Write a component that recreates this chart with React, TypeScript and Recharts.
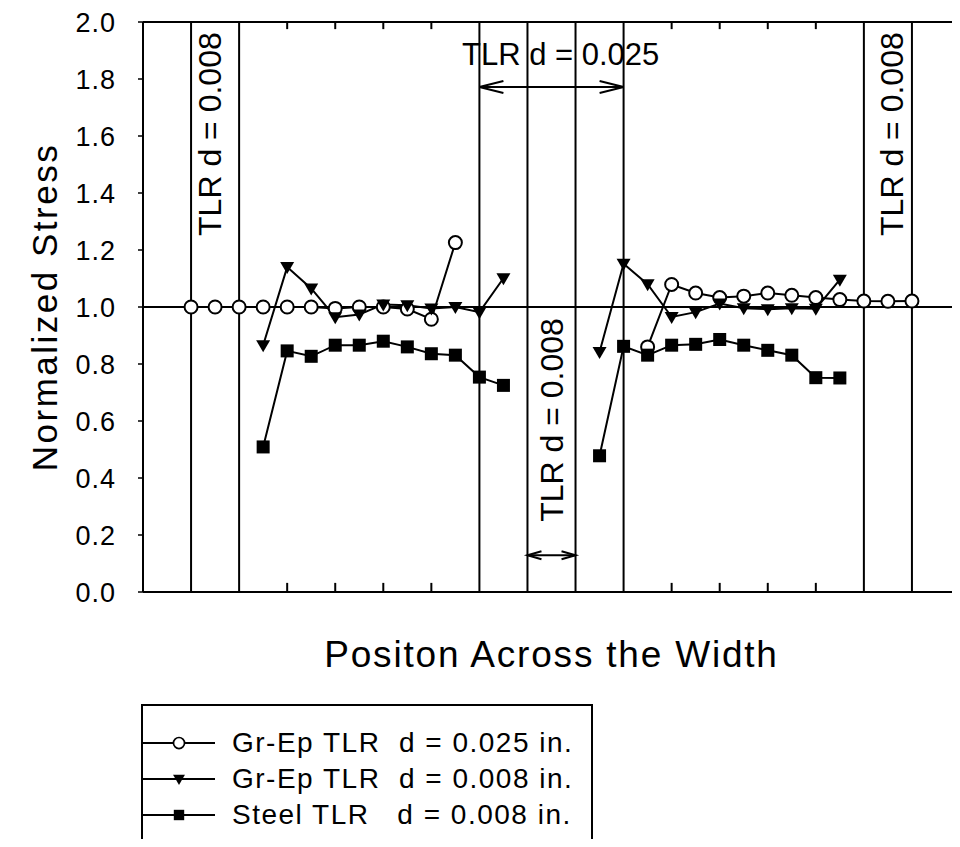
import { LineChart, Line, XAxis, YAxis, ReferenceLine, ReferenceDot, Legend } from 'recharts'

const FONT = '"Liberation Sans", Arial, Helvetica, sans-serif'

// position across the width (x) and normalized stress (y)
const grEp025LeftX = [1, 1.5, 2, 2.5, 3, 3.5, 4, 4.5, 5, 5.5, 6, 6.5]
const grEp025LeftY = [1.0, 1.0, 1.0, 1.0, 1.0, 1.0, 0.995, 1.0, 1.0, 0.993, 0.957, 1.226]
const grEp025RightX = [10.5, 11, 11.5, 12, 12.5, 13, 13.5, 14, 14.5, 15, 15.5, 16]
const grEp025RightY = [0.86, 1.079, 1.049, 1.033, 1.038, 1.049, 1.041, 1.033, 1.026, 1.021, 1.02, 1.021]

const d008LeftX = [2.5, 3, 3.5, 4, 4.5, 5, 5.5, 6, 6.5, 7, 7.5]
const d008RightX = [9.5, 10, 10.5, 11, 11.5, 12, 12.5, 13, 13.5, 14, 14.5]
const grEp008LeftY = [0.866, 1.14, 1.065, 0.964, 0.974, 1.009, 1.006, 0.995, 1.0, 0.982, 1.101]
const grEp008RightY = [0.842, 1.152, 1.08, 0.965, 0.982, 1.012, 0.996, 0.992, 0.996, 0.994, 1.096]
const steelLeftY = [0.509, 0.846, 0.827, 0.866, 0.866, 0.88, 0.86, 0.836, 0.831, 0.754, 0.725]
const steelRightY = [0.478, 0.862, 0.831, 0.866, 0.869, 0.886, 0.866, 0.848, 0.831, 0.752, 0.751]

const yTicks = [0, 0.2, 0.4, 0.6, 0.8, 1.0, 1.2, 1.4, 1.6, 1.8, 2.0]
const tlrEdges = [1, 2, 7, 8, 9, 10, 15, 16]
const minorTicks = [3, 4, 5, 6, 11, 12, 13, 14]

// annotations, in data units
const sideNotes = [
  { x: 1.375, y: 1.964 },
  { x: 15.58, y: 1.964 },
  { x: 8.49, y: 0.961 },
]
const wideNote = { x: 8.69, y: 1.848 }
const wideArrow = { from: 7, to: 10, at: 1.772 }
const narrowArrow = { from: 8, to: 9, at: 0.129 }
const bottomTickLen = 0.032
const topTickLen = 0.025

const pts = (xs: number[], ys: number[]) => xs.map((x, i) => ({ x, y: ys[i] }))

const OpenCircle = (p: any) => (
  <circle key={p.key} cx={p.cx} cy={p.cy} r={6.5} fill="#fff" stroke="#000" strokeWidth={2} />
)
const DownTriangle = (p: any) => (
  <path
    key={p.key}
    d={`M${p.cx - 7},${p.cy - 5}L${p.cx + 7},${p.cy - 5}L${p.cx},${p.cy + 7}Z`}
    fill="#000"
  />
)
const FilledSquare = (p: any) => (
  <rect key={p.key} x={p.cx - 6.5} y={p.cy - 6.5} width={13} height={13} fill="#000" />
)

const rotatedNote = (p: any) => (
  <text
    x={p.cx}
    y={p.cy}
    dy="0.36em"
    transform={`rotate(-90 ${p.cx} ${p.cy})`}
    textAnchor="end"
    fontSize={32}
    fontFamily={FONT}
    fill="#000"
  >
    TLR d = 0.008
  </text>
)

const wideNoteText = (p: any) => (
  <text x={p.cx} y={p.cy} textAnchor="middle" fontSize={31} fontFamily={FONT} fill="#000">
    TLR d = 0.025
  </text>
)

const doubleArrow = (head: number, spread: number) => (p: any) => {
  const { x1, y1, x2, y2 } = p
  return (
    <g fill="none" stroke="#000" strokeWidth={2}>
      <line x1={x1} y1={y1} x2={x2} y2={y2} />
      <polyline points={`${x1 + head},${y1 - spread} ${x1},${y1} ${x1 + head},${y1 + spread}`} />
      <polyline points={`${x2 - head},${y2 - spread} ${x2},${y2} ${x2 - head},${y2 + spread}`} />
    </g>
  )
}

const legendItems = [
  { name: 'Gr-Ep TLR  d = 0.025 in.', Marker: OpenCircle, r: 0.85 },
  { name: 'Gr-Ep TLR  d = 0.008 in.', Marker: DownTriangle, r: 0.85 },
  { name: 'Steel TLR   d = 0.008 in.', Marker: FilledSquare, r: 0.8 },
]

function LegendBox() {
  return (
    <div
      style={{
        boxSizing: 'border-box',
        width: 452,
        height: 143,
        border: '2px solid #000',
        borderBottom: 'none',
        paddingTop: 19,
        fontFamily: FONT,
        fontSize: 28,
        letterSpacing: 1.5,
        color: '#000',
        background: '#fff',
      }}
    >
      {legendItems.map(({ name, Marker, r }) => (
        <div key={name} style={{ display: 'flex', alignItems: 'center', height: 36 }}>
          <svg width={72} height={36}>
            <line x1={0} y1={18} x2={72} y2={18} stroke="#000" strokeWidth={2} />
            <g transform={`translate(36 18) scale(${r}) translate(-36 -18)`}>
              <Marker cx={36} cy={18} />
            </g>
          </svg>
          <span style={{ marginLeft: 17, whiteSpace: 'pre', lineHeight: '36px' }}>{name}</span>
        </div>
      ))}
    </div>
  )
}

const series = [
  { id: 'o-l', data: pts(grEp025LeftX, grEp025LeftY), dot: OpenCircle },
  { id: 'o-r', data: pts(grEp025RightX, grEp025RightY), dot: OpenCircle },
  { id: 't-l', data: pts(d008LeftX, grEp008LeftY), dot: DownTriangle },
  { id: 't-r', data: pts(d008RightX, grEp008RightY), dot: DownTriangle },
  { id: 's-l', data: pts(d008LeftX, steelLeftY), dot: FilledSquare },
  { id: 's-r', data: pts(d008RightX, steelRightY), dot: FilledSquare },
]

export default function App() {
  return (
    <LineChart
      width={952}
      height={831}
      margin={{ top: 14, right: 0, bottom: 0, left: 0 }}
      style={{ fontFamily: FONT }}
    >
      <XAxis
        type="number"
        dataKey="x"
        domain={[0, 17]}
        ticks={minorTicks}
        tick={false}
        tickLine={false}
        height={247}
        axisLine={{ stroke: '#000', strokeWidth: 2 }}
        label={{
          value: 'Positon Across the Width',
          position: 'insideBottom',
          offset: 172,
          fill: '#000',
          fontSize: 37,
          fontFamily: FONT,
          letterSpacing: 1.8,
        }}
      />
      <YAxis
        type="number"
        domain={[0, 2]}
        ticks={yTicks}
        interval={0}
        tickFormatter={(v: number) => v.toFixed(1)}
        width={135}
        tickSize={5}
        tickMargin={22}
        axisLine={{ stroke: '#000', strokeWidth: 2 }}
        tickLine={{ stroke: '#000', strokeWidth: 1.5 }}
        tick={{ fill: '#000', fontSize: 27, fontFamily: FONT, letterSpacing: 1 }}
        label={{
          value: 'Normalized Stress',
          angle: -90,
          position: 'insideLeft',
          offset: 37,
          fill: '#000',
          fontSize: 35,
          fontFamily: FONT,
          letterSpacing: 2.5,
          style: { textAnchor: 'middle' },
        }}
      />

      {/* frame top and short inner ticks */}
      <ReferenceLine y={2} stroke="#000" strokeWidth={2} />
      {minorTicks.map((x) => (
        <ReferenceLine
          key={`bt-${x}`}
          segment={[{ x, y: 0 }, { x, y: bottomTickLen }]}
          stroke="#000"
          strokeWidth={2}
        />
      ))}
      {minorTicks.map((x) => (
        <ReferenceLine
          key={`tt-${x}`}
          segment={[{ x, y: 2 }, { x, y: 2 - topTickLen }]}
          stroke="#000"
          strokeWidth={2}
        />
      ))}

      {tlrEdges.map((x) => (
        <ReferenceLine key={`edge-${x}`} x={x} stroke="#000" strokeWidth={2} />
      ))}
      <ReferenceLine y={1} stroke="#000" strokeWidth={2} />

      <ReferenceLine
        segment={[
          { x: wideArrow.from, y: wideArrow.at },
          { x: wideArrow.to, y: wideArrow.at },
        ]}
        shape={doubleArrow(24, 6)}
      />
      <ReferenceLine
        segment={[
          { x: narrowArrow.from, y: narrowArrow.at },
          { x: narrowArrow.to, y: narrowArrow.at },
        ]}
        shape={doubleArrow(14, 4)}
      />
      {sideNotes.map((n, i) => (
        <ReferenceDot key={`note-${i}`} x={n.x} y={n.y} shape={rotatedNote} />
      ))}
      <ReferenceDot x={wideNote.x} y={wideNote.y} shape={wideNoteText} />

      {series.map((s) => (
        <Line
          key={s.id}
          data={s.data}
          dataKey="y"
          stroke="#000"
          strokeWidth={2}
          dot={s.dot}
          activeDot={false}
          isAnimationActive={false}
        />
      ))}

      <Legend
        verticalAlign="middle"
        align="center"
        layout="horizontal"
        content={() => <LegendBox />}
        wrapperStyle={{ left: 133, top: 696, width: 452, height: 143 }}
      />
    </LineChart>
  )
}
